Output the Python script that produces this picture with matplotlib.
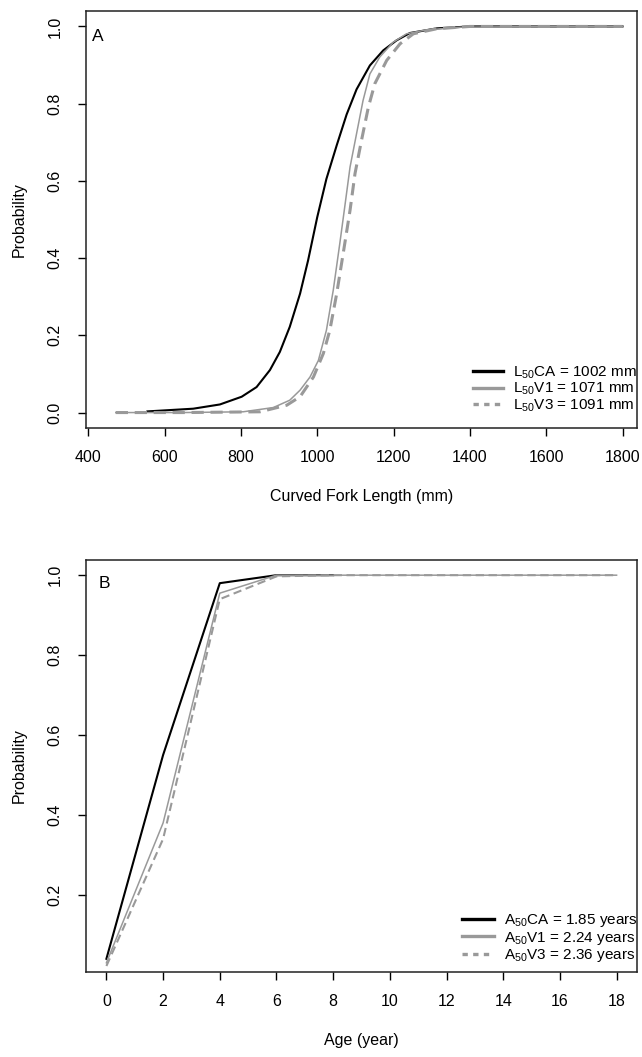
import matplotlib
matplotlib.use("Agg")
import matplotlib.pyplot as plt
from matplotlib.lines import Line2D

plt.rcParams["font.family"] = ["Liberation Sans", "DejaVu Sans"]
plt.rcParams["mathtext.default"] = "regular"

# ---- panel A: maturity ogive vs curved fork length
len_ca = [555, 675, 745, 802, 841, 876, 902, 928, 955, 976, 1000, 1024, 1051, 1077,
          1103, 1138, 1173, 1208, 1243, 1313, 1400, 1600, 1800]
p_ca = [0.003, 0.010, 0.021, 0.041, 0.066, 0.110, 0.157, 0.222, 0.308, 0.394, 0.506,
        0.605, 0.692, 0.772, 0.837, 0.899, 0.938, 0.964, 0.983, 0.995, 1.0, 1.0, 1.0]
len_v1 = [472, 650, 806, 885, 928, 955, 981, 1003, 1024, 1042, 1059, 1072, 1086, 1103,
          1120, 1138, 1164, 1199, 1234, 1286, 1374, 1600, 1800]
p_v1 = [0.0, 0.0, 0.002, 0.013, 0.032, 0.058, 0.092, 0.135, 0.213, 0.317, 0.437, 0.532,
        0.636, 0.722, 0.808, 0.877, 0.921, 0.959, 0.981, 0.991, 0.998, 1.0, 1.0]
len_v3 = [472, 650, 850, 920, 955, 990, 1016, 1033, 1051, 1068, 1086, 1099, 1116, 1134,
          1151, 1182, 1217, 1252, 1313, 1400, 1600, 1800]
p_v3 = [0.0, 0.0, 0.002, 0.019, 0.041, 0.092, 0.153, 0.213, 0.308, 0.412, 0.524, 0.619,
        0.705, 0.791, 0.852, 0.912, 0.955, 0.981, 0.994, 1.0, 1.0, 1.0]
labels_a = ["L$_{50}$CA = 1002 mm", "L$_{50}$V1 = 1071 mm", "L$_{50}$V3 = 1091 mm"]
xticks_a = [400, 600, 800, 1000, 1200, 1400, 1600, 1800]
yticks_a = [0.0, 0.2, 0.4, 0.6, 0.8, 1.0]

# ---- panel B: maturity vs age
age_ca = [0, 2, 4, 6, 8]
pa_ca = [0.04, 0.55, 0.98, 1.0, 1.0]
age_v = [0, 2, 4, 6, 8, 10, 12, 14, 16, 18]
pa_v1 = [0.03, 0.38, 0.955, 1.0, 1.0, 1.0, 1.0, 1.0, 1.0, 1.0]
pa_v3 = [0.022, 0.34, 0.94, 0.997, 1.0, 1.0, 1.0, 1.0, 1.0, 1.0]
labels_b = ["A$_{50}$CA = 1.85 years", "A$_{50}$V1 = 2.24 years", "A$_{50}$V3 = 2.36 years"]
xticks_b = list(range(0, 19, 2))
yticks_b = [0.2, 0.4, 0.6, 0.8, 1.0]

W, H = 642, 1057
GRAY = "#999999"
FS = 11.5
LFS = 11
fig = plt.figure(figsize=(W / 100, H / 100), dpi=100)


def box(left, top, right, bottom):
    return [left / W, 1 - bottom / H, (right - left) / W, (bottom - top) / H]


def style(ax, xticks, yticks):
    ax.set_xticks(xticks)
    ax.set_yticks(yticks)
    ax.set_yticklabels([f"{v:.1f}" for v in yticks], rotation=90, va="center")
    ax.tick_params(length=6, width=1, labelsize=FS, pad=10, colors="black")
    ax.tick_params(axis="y", pad=11)
    for s in ax.spines.values():
        s.set_linewidth(1.1)
        s.set_color("#222222")


def legend(ax, labels, anchor, hl):
    handles = [Line2D([], [], color="black", lw=2.4),
               Line2D([], [], color=GRAY, lw=2.4),
               Line2D([], [], color=GRAY, lw=2.4, dashes=(1.6, 1.6))]
    ax.legend(handles, labels, loc="lower right", bbox_to_anchor=anchor,
              bbox_transform=fig.transFigure, frameon=False, fontsize=LFS,
              handlelength=hl, handletextpad=0.65, labelspacing=0.02, borderpad=0,
              borderaxespad=0)


# panel A
axA = fig.add_axes(box(86, 11, 637, 428))
axA.plot(len_ca, p_ca, color="black", lw=1.5)
axA.plot(len_v1, p_v1, color=GRAY, lw=1.1)
axA.plot(len_v3, p_v3, color=GRAY, lw=2.2, dashes=(4, 2.2))
axA.set_xlim(394, 1838)
axA.set_ylim(-0.04, 1.04)
style(axA, xticks_a, yticks_a)
axA.set_xlabel("Curved Fork Length (mm)", fontsize=FS, labelpad=17)
axA.set_ylabel("Probability", fontsize=FS, labelpad=15)
axA.text(0.022, 0.94, "A", transform=axA.transAxes, fontsize=12.5, ha="center", va="center")
legend(axA, labels_a, (637 / W, 1 - 414 / H), 2.0)

# panel B
axB = fig.add_axes(box(86, 560, 637, 972))
axB.plot(age_ca, pa_ca, color="black", lw=1.5)
axB.plot(age_v, pa_v1, color=GRAY, lw=1.1)
axB.plot(age_v, pa_v3, color=GRAY, lw=1.5, dashes=(4, 2.2))
axB.set_xlim(-0.72, 18.72)
axB.set_ylim(0.007, 1.038)
style(axB, xticks_b, yticks_b)
axB.set_xlabel("Age (year)", fontsize=FS, labelpad=17)
axB.set_ylabel("Probability", fontsize=FS, labelpad=15)
axB.text(0.034, 0.944, "B", transform=axB.transAxes, fontsize=12.5, ha="center", va="center")
legend(axB, labels_b, (638 / W, 1 - 964 / H), 2.1)

fig.savefig("out.png", dpi=100)
